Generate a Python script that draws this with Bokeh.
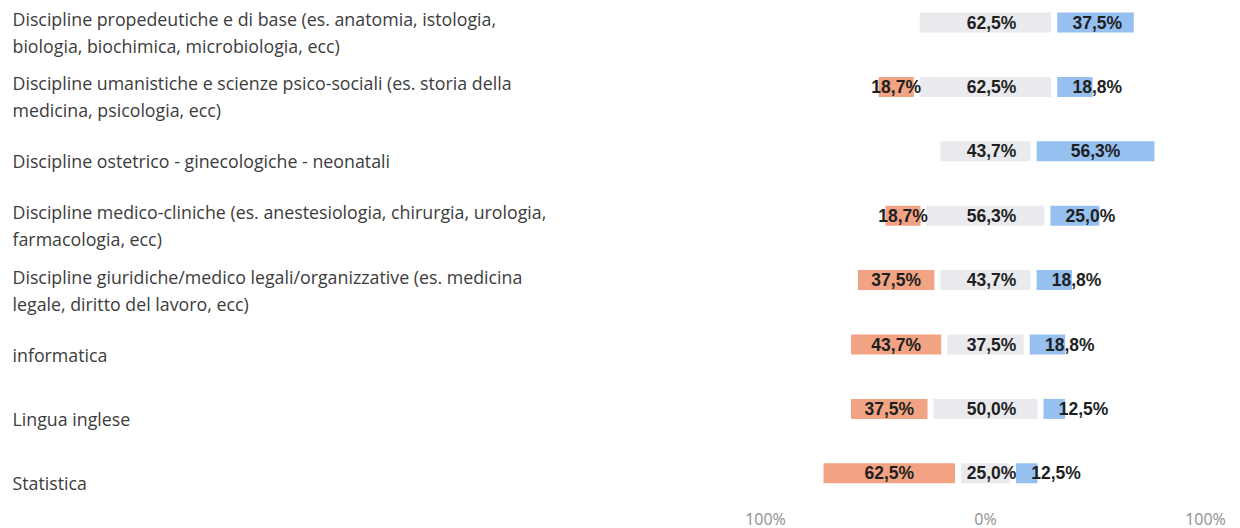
from bokeh.plotting import figure
from bokeh.models import ColumnDataSource, Range1d
from bokeh.core.properties import value
from bokeh.embed import file_html
from bokeh.resources import INLINE

categories = [
    "Discipline propedeutiche e di base (es. anatomia, istologia,\nbiologia, biochimica, microbiologia, ecc)",
    "Discipline umanistiche e scienze psico-sociali (es. storia della\nmedicina, psicologia, ecc)",
    "Discipline ostetrico - ginecologiche - neonatali",
    "Discipline medico-cliniche (es. anestesiologia, chirurgia, urologia,\nfarmacologia, ecc)",
    "Discipline giuridiche/medico legali/organizzative (es. medicina\nlegale, diritto del lavoro, ecc)",
    "informatica",
    "Lingua inglese",
    "Statistica",
]
negative = [0.0, 18.7, 0.0, 18.7, 37.5, 43.7, 37.5, 62.5]
neutral = [62.5, 62.5, 43.7, 56.3, 43.7, 37.5, 50.0, 25.0]
positive = [37.5, 18.8, 56.3, 25.0, 18.8, 18.8, 12.5, 12.5]
tick_values = [-100, 0, 100]
tick_labels = ["100%", "0%", "100%"]

C_NEG = "#F2A383"
C_NEU = "#E9EAED"
C_POS = "#95C0EF"

W, H = 1240, 528
PX_PER_UNIT = 2.2          # pixels per percentage point
ZERO_PX = 985              # x of 0%
ROW_PX = 64.4
FIRST_ROW_PX = 22
TICK_ROW_PX = 518

x0 = -ZERO_PX / PX_PER_UNIT
x1 = (W - ZERO_PX) / PX_PER_UNIT
y_top = -FIRST_ROW_PX / ROW_PX
y_bot = (H - FIRST_ROW_PX) / ROW_PX
y_ticks = (TICK_ROW_PX - FIRST_ROW_PX) / ROW_PX

p = figure(width=W, height=H, output_backend="svg", toolbar_location=None,
           x_range=Range1d(x0, x1), y_range=Range1d(y_bot, y_top),
           x_axis_location=None, y_axis_location=None,
           min_border=0)
p.outline_line_color = None
p.xgrid.visible = False
p.ygrid.visible = False
p.background_fill_color = "white"

hg = 3.0 / PX_PER_UNIT   # half gap between segments
bar_h = 20.0 / ROW_PX

def fmt(v):
    return ("%.1f" % v).replace(".", ",") + "%"

rows = list(range(len(categories)))

seg = {"y": [], "left": [], "right": [], "color": []}
lab = {"x": [], "y": [], "t": [], "off": []}
for i in rows:
    n, m, q = negative[i], neutral[i], positive[i]
    if m > 0:
        seg["y"].append(i); seg["left"].append(-m / 2 + hg); seg["right"].append(m / 2 - hg); seg["color"].append(C_NEU)
        lab["x"].append(0.0); lab["y"].append(i); lab["t"].append(fmt(m)); lab["off"].append(6)
    if n > 0:
        l, r = -m / 2 - n + hg, -m / 2 - hg
        seg["y"].append(i); seg["left"].append(l); seg["right"].append(r); seg["color"].append(C_NEG)
        lab["x"].append((l + r) / 2); lab["y"].append(i); lab["t"].append(fmt(n)); lab["off"].append(0)
    if q > 0:
        l, r = m / 2 + hg, m / 2 + q - hg
        seg["y"].append(i); seg["left"].append(l); seg["right"].append(r); seg["color"].append(C_POS)
        wdt = max(r - l, 80.0 / PX_PER_UNIT)
        lab["x"].append(l + wdt / 2); lab["y"].append(i); lab["t"].append(fmt(q)); lab["off"].append(0)

p.hbar(y="y", left="left", right="right", height=bar_h, color="color",
       line_color=None, source=ColumnDataSource(seg))

p.text(x="x", y="y", text="t", x_offset="off", source=ColumnDataSource(lab),
       text_align="center", text_baseline="middle",
       text_font=value("Liberation Sans"), text_font_style="bold",
       text_font_size="17.5px", text_color="#1f1f1f")

cat_src = ColumnDataSource(dict(x=[x0] * len(categories), y=rows, t=categories))
p.text(x="x", y="y", text="t", source=cat_src, x_offset=12, y_offset=10,
       text_align="left", text_baseline="middle", text_line_height=1.13,
       text_font=value("Open Sans"), text_font_size="17.8px", text_color="#3c3c3c")

tick_src = ColumnDataSource(dict(x=tick_values, y=[y_ticks] * len(tick_values), t=tick_labels))
p.text(x="x", y="y", text="t", source=tick_src,
       text_align="center", text_baseline="middle",
       text_font=value("Open Sans"), text_font_size="16px", text_color="#8f8f8f")

open("out.html", "w").write(file_html(p, INLINE))
